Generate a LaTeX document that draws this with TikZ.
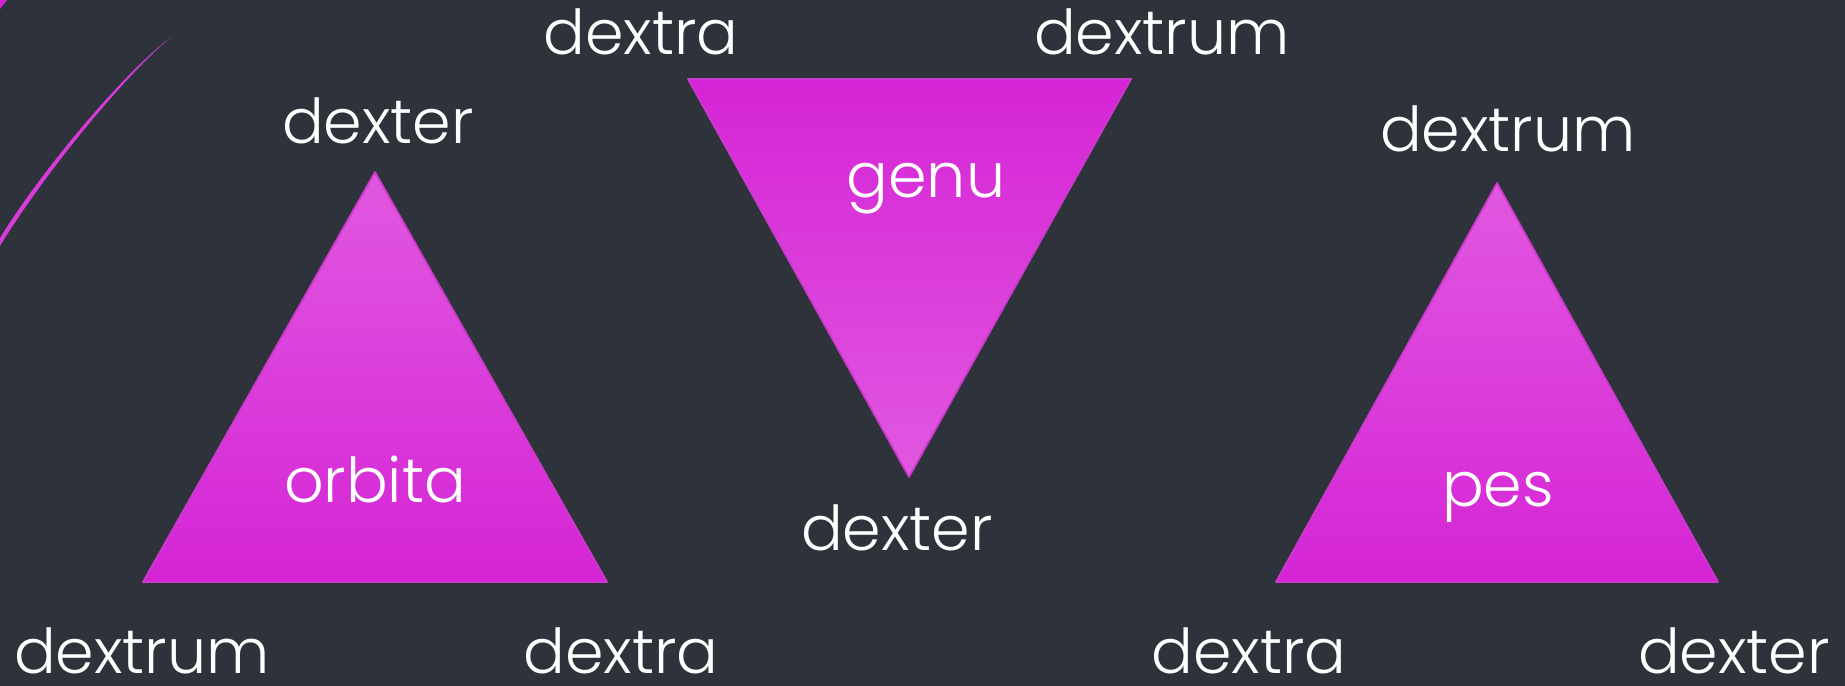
\documentclass[tikz,border=0pt]{standalone}
\usepackage{fontspec}
\setmainfont{Poppins}[UprightFont={* Light}]
\usetikzlibrary{positioning, calc}

\definecolor{slatebg}{HTML}{2E333B}
\definecolor{orchidhi}{HTML}{E158E1}
\definecolor{orchidlo}{HTML}{D524D5}
\definecolor{orchidedge}{HTML}{CB3ACB}

\begin{document}
\begin{tikzpicture}[
  x=0.01cm, y=-0.01cm,
  tri/.style={draw=orchidedge, line width=0.5pt, line join=round},
  uptri/.style={tri, top color=orchidhi, bottom color=orchidlo},
  downtri/.style={tri, top color=orchidlo, bottom color=orchidhi},
  word/.style={anchor=base, inner sep=0pt, text=white, font=\fontsize{17.6}{20}\selectfont}
]

%--------------------------------------
% Background
%--------------------------------------
\fill[slatebg] (0,0) rectangle (1845,686);
\useasboundingbox (0,0) rectangle (1845,686);

% Decorative stroke top left
\fill[orchidlo!90!white] (171,37) .. controls (120,80) and (40,180) .. (0,246)
  -- (0,238) .. controls (38,176) and (118,78) .. (171,37) -- cycle;
\fill[orchidlo] (0,0) -- (7,0) -- (0,9) -- cycle;

%--------------------------------------
% Triangle corners
%--------------------------------------
\coordinate (orbita_top) at (375,172);
\coordinate (orbita_left) at (143,582);
\coordinate (orbita_right) at (607,582);

\coordinate (genu_left) at (688,79);
\coordinate (genu_right) at (1131,79);
\coordinate (genu_bottom) at (909,477);

\coordinate (pes_top) at (1497,183);
\coordinate (pes_left) at (1276,582);
\coordinate (pes_right) at (1718,582);

%--------------------------------------
% Triangles
%--------------------------------------
\path[uptri] (orbita_top) -- (orbita_right) -- (orbita_left) -- cycle;
\path[downtri] (genu_left) -- (genu_right) -- (genu_bottom) -- cycle;
\path[uptri] (pes_top) -- (pes_right) -- (pes_left) -- cycle;

\node[word] (orbita) at (375,503) {orbita};
\node[word] (genu) at (926,198) {genu};
\node[word] (pes) at (1498,507) {pes};

%--------------------------------------
% Corner labels
%--------------------------------------
\node[word] (orbita_dexter) at (378,144) {dexter};
\node[word] (orbita_dextrum) at (142,674) {dextrum};
\node[word] (orbita_dextra) at (621,674) {dextra};

\node[word] (genu_dextra) at (641,55) {dextra};
\node[word] (genu_dextrum) at (1162,55) {dextrum};
\node[word] (genu_dexter) at (897,551) {dexter};

\node[word] (pes_dextrum) at (1508,152) {dextrum};
\node[word] (pes_dextra) at (1249,674) {dextra};
\node[word] (pes_dexter) at (1734,674) {dexter};

\end{tikzpicture}
\end{document}
